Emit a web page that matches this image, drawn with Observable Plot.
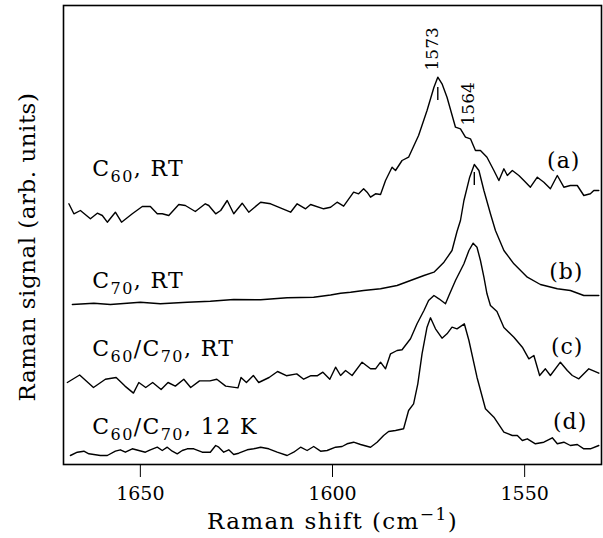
<!DOCTYPE html>
<html><head><meta charset="utf-8">
<script src="https://cdn.jsdelivr.net/npm/d3@7"></script>
<script src="https://cdn.jsdelivr.net/npm/@observablehq/plot@0.6"></script>
<style>html,body{margin:0;padding:0;background:#fff}</style>
</head><body><div id="chart"></div>
<script>
// Raman shift (cm^-1) and signal (arb. units) for each spectrum
const shiftA = [1668.6,1667.3,1665.6,1663.0,1661.2,1659.9,1658.6,1656.5,1654.9,1652.1,1649.5,1647.4,1645.6,1644.3,1642.6,1640.0,1638.3,1635.7,1633.1,1632.2,1630.4,1629.1,1627.4,1625.7,1623.5,1621.8,1618.7,1616.1,1610.9,1609.2,1607.0,1605.7,1602.3,1600.5,1598.8,1597.1,1594.5,1593.2,1591.9,1591.0,1590.1,1588.8,1587.5,1586.2,1584.5,1583.6,1581.9,1580.2,1577.6,1575.4,1573.6,1572.6,1571.5,1570.2,1568.0,1566.7,1565.4,1564.1,1562.8,1561.5,1559.8,1558.0,1556.7,1555.4,1554.5,1553.2,1551.5,1550.2,1548.5,1546.7,1545.0,1543.3,1541.5,1539.8,1538.1,1536.3,1534.6,1532.9,1532.0,1530.7];
const sigA = [260.7,250.7,254,245.7,251.3,249,242.3,252.3,242.3,250.7,258,258,250.7,250.7,249,260,259,253,260.7,259,250.7,254,264,250.7,261.3,252.3,262.3,260.7,252.3,260.7,255.7,260,255.7,257.3,262.3,258.3,272.3,270.7,275.7,272.3,267.3,270.7,270,284,297.3,294,304,307.3,329,354,377.3,387.3,380.7,367.3,337.3,335.7,327.3,325.7,314,314,307.3,294,284,295.7,289,294,289,284,277.3,287.3,282.3,275.7,289,277.3,279,279,269,270.7,274,274];

const shiftB = [1667.7,1662.1,1657.8,1650.0,1644.8,1637.8,1631.8,1625.7,1618.7,1611.8,1604.9,1600.5,1597.9,1595.3,1591.9,1587.5,1583.2,1579.7,1576.2,1573.6,1571.0,1568.9,1567.6,1566.7,1565.8,1564.3,1563.1,1561.9,1560.6,1558.9,1557.6,1555.4,1552.8,1549.3,1545.9,1541.5,1538.1,1534.6,1530.7];
const sigB = [160,161.3,160,162.3,160.7,162.3,163.3,165,164.7,166.7,167.3,169.5,171.3,172.3,174,175.7,179,184,189,192.3,202.3,214,233,244,264,287.3,300,294,274,250.7,234,214,200.7,187.3,180,175.7,174,169,169];

const shiftC = [1669.0,1665.8,1662.2,1659.1,1656.3,1654.0,1651.8,1650.4,1648.6,1646.8,1644.6,1642.8,1640.9,1638.7,1636.9,1634.6,1631.9,1630.1,1627.8,1624.6,1623.8,1622.4,1620.6,1619.2,1616.5,1614.3,1612.0,1609.3,1607.5,1605.6,1603.9,1602.5,1600.7,1599.2,1597.9,1596.6,1594.9,1592.3,1590.1,1588.8,1587.5,1586.2,1584.9,1583.2,1581.9,1579.7,1578.0,1576.2,1575.0,1573.6,1572.3,1570.6,1569.7,1568.0,1565.8,1564.5,1563.4,1562.4,1561.5,1560.6,1559.8,1558.9,1557.2,1555.4,1552.8,1550.6,1548.9,1547.6,1546.1,1544.6,1543.3,1540.7,1538.9,1537.6,1535.9,1533.3,1530.7];
const sigC = [82,89.5,77,85.3,87,78.4,71.4,82,77,82,75,82,78.4,85.3,77,83.6,83.6,85.3,78.4,76.6,87,82,89,82,87,93,88.8,90.6,85.3,88.8,88.8,92.3,85.3,97.3,89,94,89,102.3,95.7,95.7,102.3,95.7,110.7,114,114.7,125.7,140.7,154,164,169,165.7,160.7,169,184,200.7,214,221.3,217.3,204,187.3,170.7,159,153,137,127.3,117.3,105.7,109,89,95.7,89,102.3,94,89,85.7,95.7,91.3];

const shiftD = [1668.2,1666.4,1664.7,1663.4,1662.1,1660.4,1658.6,1656.5,1655.2,1653.9,1652.1,1650.4,1648.7,1647.4,1645.6,1644.3,1643.0,1641.7,1640.4,1639.1,1637.8,1636.1,1633.9,1631.8,1630.4,1629.6,1628.3,1627.0,1625.7,1624.4,1622.2,1620.5,1618.7,1616.6,1614.4,1611.8,1610.1,1608.3,1606.6,1604.9,1603.1,1601.4,1599.2,1597.5,1596.2,1594.5,1592.7,1590.1,1588.4,1586.7,1585.4,1583.6,1581.5,1580.2,1578.9,1577.8,1576.7,1575.4,1574.5,1573.2,1571.5,1570.2,1568.9,1567.6,1565.7,1564.5,1562.4,1560.2,1558.0,1555.4,1553.2,1551.9,1550.6,1549.3,1547.2,1545.0,1542.8,1541.5,1539.8,1538.1,1536.3,1534.6,1532.9,1530.7];
const sigD = [9,12.3,13.3,10.7,10,9,9,13.3,14.7,12.3,15.7,14,12.3,14.7,17.3,14,17.3,13.3,10.7,14,15.7,15.7,12.3,12.3,19,17.3,12.3,14.7,10,11.3,14.7,15.7,17.3,15.7,12.3,9,12.3,17.3,14,18,13.3,14,17.3,18,20.7,22.3,20,17.3,22.3,29,33,34,35.7,54,60.7,80.7,110.7,137.3,146.7,135.7,126.3,130.7,137.3,135.7,140.7,124,87.3,55.7,47.3,32.3,29,29,24,25.7,20.7,22.3,26.7,20.7,22.3,19,20,15.7,15.7,19];

// Labels
const sampleLabels = ["C60, RT", "C70, RT", "C60/C70, RT", "C60/C70, 12 K"];
const sampleLabelShift = [1662.5, 1662.5, 1662.5, 1662.5];
const sampleLabelSignal = [289, 177, 109, 31];
const letterLabels = ["(a)", "(b)", "(c)", "(d)"];
const letterLabelShift = [1535.5, 1534.7, 1534.7, 1533.7];
const letterLabelSignal = [297, 186, 111, 36];
const peakLabels = ["1573", "1564"];
const peakShift = [1572.6, 1563.1];
const peakLabelSignal = [394, 339];
const peakMarkTop = [377, 292];
const peakMarkBottom = [364, 279];
const xTicks = [1650, 1600, 1550];
const xTitle = "Raman shift (cm-1)";
const yTitle = "Raman signal (arb. units)";

const series = [
  {key: "a", shift: shiftA, signal: sigA},
  {key: "b", shift: shiftB, signal: sigB},
  {key: "c", shift: shiftC, signal: sigC},
  {key: "d", shift: shiftD, signal: sigD}
];
const rows = series.flatMap(s => s.shift.map((x, i) => ({series: s.key, shift: x, signal: s.signal[i]})));
const sampleRows = sampleLabels.map((t, i) => ({t, x: sampleLabelShift[i], y: sampleLabelSignal[i]}));
const letterRows = letterLabels.map((t, i) => ({t, x: letterLabelShift[i], y: letterLabelSignal[i]}));
const peakRows = peakLabels.map((t, i) => ({t, x: peakShift[i], y: peakLabelSignal[i], y1: peakMarkBottom[i], y2: peakMarkTop[i]}));

const font = "'DejaVu Serif', serif";
const chart = Plot.plot({
  width: 603, height: 538,
  marginLeft: 63, marginRight: 2, marginTop: 5, marginBottom: 74,
  style: {fontFamily: font, fontSize: "19px", background: "#fff", color: "#000", overflow: "visible"},
  x: {domain: [1670, 1530], ticks: xTicks, tickSize: 13, tickPadding: 9, tickFormat: d => String(d), label: null},
  y: {domain: [0, 459], axis: null},
  marks: [
    Plot.frame({stroke: "#000", strokeWidth: 1.6}),
    Plot.line(rows, {x: "shift", y: "signal", z: "series", stroke: "#000", strokeWidth: 1.4, strokeLinejoin: "round"}),
    Plot.ruleX(peakRows, {x: "x", y1: "y1", y2: "y2", stroke: "#000", strokeWidth: 1.4}),
    Plot.text(peakRows, {x: "x", y: "y", text: "t", rotate: -90, textAnchor: "start", lineAnchor: "bottom", fontSize: 17, fill: "#000"}),
    Plot.text(sampleRows, {x: "x", y: "y", text: "t", textAnchor: "start", lineAnchor: "bottom", fontSize: 22, fill: "#000"}),
    Plot.text(letterRows, {x: "x", y: "y", text: "t", textAnchor: "end", lineAnchor: "bottom", fontSize: 22, fill: "#000"}),
    Plot.text([xTitle], {frameAnchor: "bottom", dy: 64, lineAnchor: "bottom", textAnchor: "middle", fontSize: 23, fill: "#000"}),
    Plot.text([yTitle], {frameAnchor: "left", rotate: -90, dx: -36, dy: 12, textAnchor: "middle", lineAnchor: "middle", fontSize: 23, fill: "#000"})
  ]
});

// subscripts / superscripts as real text, plus letter spacing
d3.select(chart).selectAll("text").each(function() {
  const t = this.textContent;
  const sel = d3.select(this);
  if (/C\d\d/.test(t)) {
    sel.text(null).style("letter-spacing", "1.4px");
    const tokens = t.match(/C\d\d|[^C]+|C/g);
    let shifted = false;
    for (const tok of tokens) {
      const m = tok.match(/^C(\d\d)$/);
      if (m) {
        sel.append("tspan").attr("dy", shifted ? -6 : null).text("C");
        sel.append("tspan").attr("dy", 6).attr("font-size", 16).text(m[1]);
        shifted = true;
      } else {
        sel.append("tspan").attr("dy", shifted ? -6 : null).text(tok);
        shifted = false;
      }
    }
  } else if (t === xTitle) {
    sel.text(null).style("letter-spacing", "1.4px");
    sel.append("tspan").text("Raman shift (cm");
    sel.append("tspan").attr("dy", -9).attr("font-size", 17).text("\u22121");
    sel.append("tspan").attr("dy", 9).text(")");
  } else if (t === yTitle) {
    sel.style("letter-spacing", "0.5px");
  } else if (letterLabels.includes(t)) {
    sel.style("letter-spacing", "1px");
  }
});
document.getElementById("chart").appendChild(chart);
</script>
</body></html>
